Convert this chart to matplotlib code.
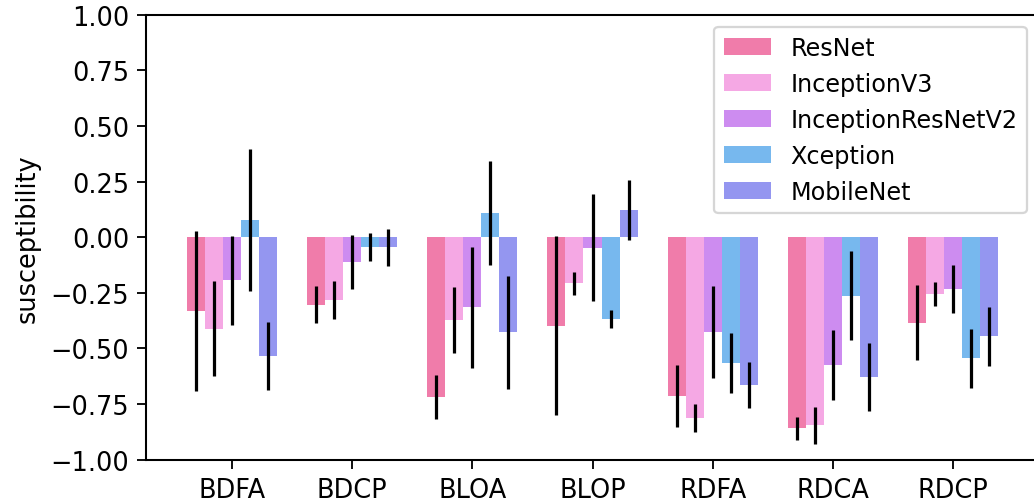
import matplotlib
matplotlib.use("Agg")
import matplotlib.pyplot as plt
import numpy as np

# attack types on the x axis
attacks = ['BDFA', 'BDCP', 'BLOA', 'BLOP', 'RDFA', 'RDCA', 'RDCP']
models = ['ResNet', 'InceptionV3', 'InceptionResNetV2', 'Xception', 'MobileNet']
colors = ['#f07caa', '#f5a8e4', '#cd8cf0', '#77b8ee', '#9496f0']

# mean susceptibility per model (one value per attack)
resnet = [-0.333, -0.303, -0.717, -0.397, -0.714, -0.859, -0.384]
inception_v3 = [-0.411, -0.282, -0.372, -0.207, -0.812, -0.846, -0.255]
inception_resnet_v2 = [-0.194, -0.111, -0.315, -0.047, -0.428, -0.574, -0.234]
xception = [0.078, -0.046, 0.108, -0.367, -0.565, -0.263, -0.544]
mobilenet = [-0.535, -0.046, -0.428, 0.122, -0.665, -0.628, -0.445]

# standard deviations
resnet_err = [0.360, 0.084, 0.099, 0.403, 0.139, 0.052, 0.169]
inception_v3_err = [0.212, 0.085, 0.148, 0.051, 0.062, 0.084, 0.055]
inception_resnet_v2_err = [0.199, 0.123, 0.272, 0.240, 0.207, 0.156, 0.107]
xception_err = [0.320, 0.063, 0.234, 0.040, 0.136, 0.200, 0.133]
mobilenet_err = [0.153, 0.084, 0.252, 0.135, 0.103, 0.153, 0.133]

means = [resnet, inception_v3, inception_resnet_v2, xception, mobilenet]
errs = [resnet_err, inception_v3_err, inception_resnet_v2_err, xception_err, mobilenet_err]

plt.rcParams['xtick.major.size'] = 3.9
plt.rcParams['ytick.major.size'] = 3.9
plt.rcParams['axes.linewidth'] = 0.9

fig = plt.figure(figsize=(1034 / 165, 501 / 165), dpi=165)
ax = fig.add_axes([146 / 1034, 1 - 460.7 / 501, (1039 - 146) / 1034, (460.7 - 15.7) / 501])

x = np.arange(len(attacks))
width = 0.15
for i, (name, m, e) in enumerate(zip(models, means, errs)):
    ax.bar(x + (i - 2) * width, m, width, yerr=e, color=colors[i], label=name,
           error_kw=dict(elinewidth=1.4, ecolor='black', capsize=0))

ax.set_xticks(x)
ax.set_xticklabels(attacks)
ax.set_ylim(-1, 1)
ax.set_yticks(np.linspace(-1, 1, 9))
ax.tick_params(labelsize=11.2)
ax.set_ylabel('susceptibility', fontsize=11.2)
ax.legend(loc='upper right', fontsize=10.4)

fig.savefig('out.png', dpi=165)
